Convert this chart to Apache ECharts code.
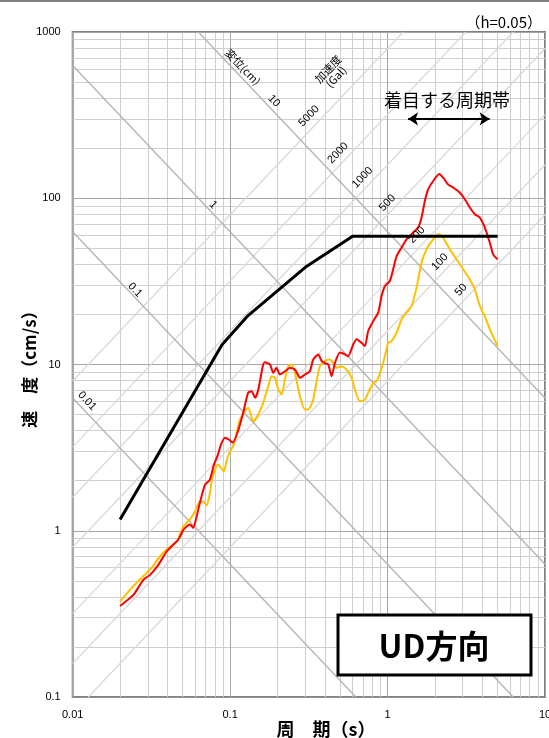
<!DOCTYPE html>
<html>
<head>
<meta charset="utf-8">
<script src="https://cdn.jsdelivr.net/npm/echarts@6/dist/echarts.min.js"></script>
<style>
  html, body { margin: 0; padding: 0; background: #fff; }
  #chart { width: 549px; height: 738px; }
</style>
</head>
<body>
<div id="chart"></div>
<script>
// axis ticks
const xTicks = [0.01, 0.1, 1, 10];
const yTicks = [0.1, 1, 10, 100, 1000];
const mantissas = [2, 3, 4, 5, 6, 7, 8, 9];

// tripartite guide lines
const dispLines = [0.01, 0.1, 1, 10];                 // cm
const accLines = [50, 100, 200, 500, 1000, 2000, 5000]; // Gal

// black design line
const blackT = [0.02, 0.089, 0.13, 0.3, 0.6, 5];
const blackV = [1.17, 13.2, 19.7, 38.4, 59, 59];

// red spectrum
const redT = [0.020, 0.0243, 0.0281, 0.031, 0.035, 0.0395, 0.0435, 0.0468, 0.0504, 0.0529, 0.0556, 0.0583,
  0.0613, 0.0643, 0.0692, 0.0744, 0.0789, 0.0837, 0.0874, 0.0927, 0.0983, 0.104, 0.113, 0.121, 0.130, 0.137,
  0.144, 0.151, 0.162, 0.166, 0.179, 0.188, 0.197, 0.207, 0.223, 0.240, 0.258, 0.278, 0.299, 0.321, 0.337,
  0.363, 0.381, 0.400, 0.420, 0.441, 0.463, 0.498, 0.536, 0.562, 0.605, 0.636, 0.684, 0.718, 0.753, 0.810,
  0.872, 0.916, 0.961, 1.034, 1.085, 1.141, 1.227, 1.320, 1.454, 1.564, 1.644, 1.725, 1.810, 1.948, 2.127,
  2.254, 2.425, 2.610, 2.877, 3.097, 3.331, 3.584, 3.855, 4.148, 4.462, 4.683, 5.0];
const redV = [0.353, 0.411, 0.507, 0.543, 0.624, 0.750, 0.823, 0.883, 1.01, 1.06, 1.09, 1.04,
  1.22, 1.48, 1.89, 2.03, 2.50, 2.87, 3.30, 3.63, 3.53, 3.39, 4.06, 5.12, 6.75, 6.91,
  6.30, 7.07, 10.0, 10.3, 10.0, 8.91, 9.55, 8.71, 9.11, 9.55, 9.33, 8.32, 8.71, 9.11, 10.7,
  11.5, 10.5, 10.2, 10.0, 8.50, 10.2, 11.8, 11.5, 11.2, 13.2, 14.2, 13.5, 12.9, 15.9, 18.2,
  20.5, 25.8, 29.6, 31.8, 37.4, 44.9, 50.5, 56.6, 62.2, 66.6, 76.5, 96.3, 113, 127, 140,
  133, 121, 116, 108, 98.6, 87.9, 80.1, 76.5, 66.6, 54.1, 46.0, 42.9];

// yellow spectrum
const yelT = [0.020, 0.0231, 0.0274, 0.0317, 0.0358, 0.0405, 0.0458, 0.0504, 0.0529, 0.0556, 0.0598, 0.0643,
  0.0675, 0.0709, 0.0744, 0.0766, 0.0801, 0.0837, 0.0874, 0.0913, 0.0954, 0.0997, 0.1057, 0.1154, 0.1303,
  0.1402, 0.1508, 0.1623, 0.1745, 0.1834, 0.1925, 0.2020, 0.2123, 0.2228, 0.2338, 0.2457, 0.2579, 0.2775,
  0.2985, 0.3133, 0.3370, 0.3542, 0.3717, 0.3999, 0.4302, 0.4515, 0.4746, 0.5105, 0.5492, 0.5908, 0.6201,
  0.6671, 0.7176, 0.7529, 0.8100, 0.8516, 0.9161, 0.9614, 1.009, 1.060, 1.141, 1.227, 1.320, 1.421, 1.528,
  1.644, 1.769, 1.948, 2.127, 2.254, 2.486, 2.742, 3.020, 3.331, 3.584, 3.855, 4.148, 4.462, 5.0];
const yelV = [0.375, 0.441, 0.521, 0.599, 0.700, 0.787, 0.862, 1.06, 1.12, 1.17, 1.31, 1.50,
  1.50, 1.42, 1.69, 2.03, 2.33, 2.50, 2.40, 2.27, 2.68, 2.99, 3.30, 4.66, 5.49,
  4.55, 5.00, 5.88, 7.40, 8.50, 8.32, 7.07, 6.60, 8.12, 9.77, 10.0, 8.91, 6.44,
  5.36, 5.36, 6.15, 7.93, 9.77, 10.5, 10.7, 10.2, 9.55, 9.77, 9.33, 8.32, 7.07,
  6.01, 6.15, 6.75, 7.76, 7.93, 9.5, 11.2, 13.5, 13.8, 15.5, 18.7, 20.5, 22.5, 29.0,
  41.0, 49.3, 56.6, 60.7, 58.0, 49.3, 42.9, 37.4, 32.5, 28.3, 22.5, 19.5, 16.3, 12.9];

// "着目する周期帯" arrow
const bandT = [1.35, 4.45];
const bandV = 300;

const X_MIN = xTicks[0], X_MAX = xTicks[xTicks.length - 1];
const Y_MIN = yTicks[0], Y_MAX = yTicks[yTicks.length - 1];
const TWO_PI = 2 * Math.PI;
const zip = (a, b) => a.map((v, i) => [v, b[i]]);

// grid lines
const minorGrid = [], majorGrid = [];
xTicks.forEach((d, i) => {
  majorGrid.push({ coords: [[d, Y_MIN], [d, Y_MAX]] });
  if (i < xTicks.length - 1) mantissas.forEach(m => minorGrid.push({ coords: [[m * d, Y_MIN], [m * d, Y_MAX]] }));
});
yTicks.forEach((d, i) => {
  majorGrid.push({ coords: [[X_MIN, d], [X_MAX, d]] });
  if (i < yTicks.length - 1) mantissas.forEach(m => minorGrid.push({ coords: [[X_MIN, m * d], [X_MAX, m * d]] }));
});

// displacement: V = 2πD/T, acceleration: V = A·T/2π
const dispData = dispLines.map(D => {
  const t1 = Math.max(X_MIN, TWO_PI * D / Y_MAX);
  const t2 = Math.min(X_MAX, TWO_PI * D / Y_MIN);
  return { coords: [[t1, TWO_PI * D / t1], [t2, TWO_PI * D / t2]] };
});
const accData = accLines.map(A => {
  const t1 = Math.max(X_MIN, TWO_PI * Y_MIN / A);
  const t2 = Math.min(X_MAX, TWO_PI * Y_MAX / A);
  return { coords: [[t1, A * t1 / TWO_PI], [t2, A * t2 / TWO_PI]] };
});

const tickLabel = list => v => {
  const t = list.find(k => Math.abs(Math.log10(k) - Math.log10(v)) < 1e-6);
  return t === undefined ? '' : String(t);
};

const ROT = 0.81;
const smallFont = '11px "Liberation Sans", Arial, sans-serif';
const jpFont = '"Noto Sans CJK JP", sans-serif';
const rotText = (text, x, y, rotation, font) => ({
  type: 'text', x: x, y: y, rotation: rotation, z: 20, silent: true,
  style: { text: text, font: font || smallFont, fill: '#000', textAlign: 'center', textVerticalAlign: 'middle' }
});

const chart = echarts.init(document.getElementById('chart'));
chart.setOption({
  animation: false,
  backgroundColor: '#fff',
  grid: {
    left: 72.7, right: 4, top: 32, bottom: 41,
    containLabel: false, outerBoundsMode: 'none',
    show: true, borderColor: '#808080', borderWidth: 2
  },
  xAxis: {
    type: 'log', logBase: 10, min: X_MIN, max: X_MAX,
    axisLine: { show: false }, axisTick: { show: false }, splitLine: { show: false },
    axisLabel: { formatter: tickLabel(xTicks), margin: 12, fontSize: 11, color: '#000',
      fontFamily: '"Liberation Sans", Arial, sans-serif', showMaxLabel: true, showMinLabel: true }
  },
  yAxis: {
    type: 'log', logBase: 10, min: Y_MIN, max: Y_MAX,
    axisLine: { show: false }, axisTick: { show: false }, splitLine: { show: false },
    axisLabel: { formatter: tickLabel(yTicks), margin: 12, fontSize: 11, color: '#000',
      fontFamily: '"Liberation Sans", Arial, sans-serif' }
  },
  series: [
    { type: 'lines', coordinateSystem: 'cartesian2d', silent: true, z: 1,
      lineStyle: { color: '#cfcfcf', width: 1, opacity: 1 }, data: minorGrid },
    { type: 'lines', coordinateSystem: 'cartesian2d', silent: true, z: 1,
      lineStyle: { color: '#a6a6a6', width: 1, opacity: 1 }, data: majorGrid },
    { type: 'lines', coordinateSystem: 'cartesian2d', silent: true, z: 2,
      lineStyle: { color: '#d9d9d9', width: 1.3, opacity: 1 }, data: accData },
    { type: 'lines', coordinateSystem: 'cartesian2d', silent: true, z: 2,
      lineStyle: { color: '#b3b3b3', width: 1.3, opacity: 1 }, data: dispData },
    { name: 'yellow', type: 'line', z: 5, symbol: 'none', smooth: 0.2, data: zip(yelT, yelV),
      lineStyle: { color: '#ffc000', width: 2 } },
    { name: 'red', type: 'line', z: 6, symbol: 'none', smooth: 0.2, data: zip(redT, redV),
      lineStyle: { color: '#ff0000', width: 2 } },
    { name: 'black', type: 'line', z: 7, symbol: 'none', data: zip(blackT, blackV),
      lineStyle: { color: '#000', width: 3 } },
    { type: 'lines', coordinateSystem: 'cartesian2d', silent: true, z: 8,
      symbol: ['arrow', 'arrow'], symbolSize: 10,
      lineStyle: { color: '#000', width: 2, opacity: 1 },
      data: [{ coords: [[bandT[0], bandV], [bandT[1], bandV]] }] }
  ],
  graphic: [
    { type: 'line', shape: { x1: 0, y1: 1, x2: 549, y2: 1 }, style: { stroke: '#808080', lineWidth: 2 } },
    { type: 'text', x: 542, y: 22, style: { text: '（h=0.05）', font: '15px ' + jpFont, fill: '#000',
      textAlign: 'right', textVerticalAlign: 'middle' } },
    { type: 'text', x: 447, y: 100, z: 20, style: { text: '着目する周期帯', font: '18px ' + jpFont, fill: '#000',
      textAlign: 'center', textVerticalAlign: 'middle' } },
    rotText('0.01', 87, 401, -ROT),
    rotText('0.1', 135, 290, -ROT),
    rotText('1', 213, 205, -ROT),
    rotText('10', 274, 101, -ROT),
    rotText('変位(cm)', 243, 67, -ROT, '11px ' + jpFont),
    rotText('加速度\n(Gal)', 332, 73, ROT, '11px ' + jpFont),
    rotText('5000', 309, 116, ROT),
    rotText('2000', 338, 153, ROT),
    rotText('1000', 362.5, 177.5, ROT),
    rotText('500', 387.5, 203, ROT),
    rotText('200', 417, 235, ROT),
    rotText('100', 440, 262, ROT),
    rotText('50', 461, 290, ROT),
    { type: 'rect', z: 30, shape: { x: 338, y: 615, width: 193, height: 60 },
      style: { fill: '#fff', stroke: '#000', lineWidth: 3 } },
    { type: 'text', z: 31, x: 434, y: 646, style: { text: 'UD方向', font: 'bold 32px ' + jpFont, fill: '#000',
      textAlign: 'center', textVerticalAlign: 'middle' } },
    { type: 'text', x: 326, y: 729, style: { text: '周　期（s）', font: 'bold 18px ' + jpFont, fill: '#000',
      textAlign: 'center', textVerticalAlign: 'middle' } },
    { type: 'text', x: 30, y: 365, rotation: Math.PI / 2, style: { text: '速　度（cm/s）', font: 'bold 17px ' + jpFont,
      fill: '#000', textAlign: 'center', textVerticalAlign: 'middle' } }
  ]
});
</script>
</body>
</html>
